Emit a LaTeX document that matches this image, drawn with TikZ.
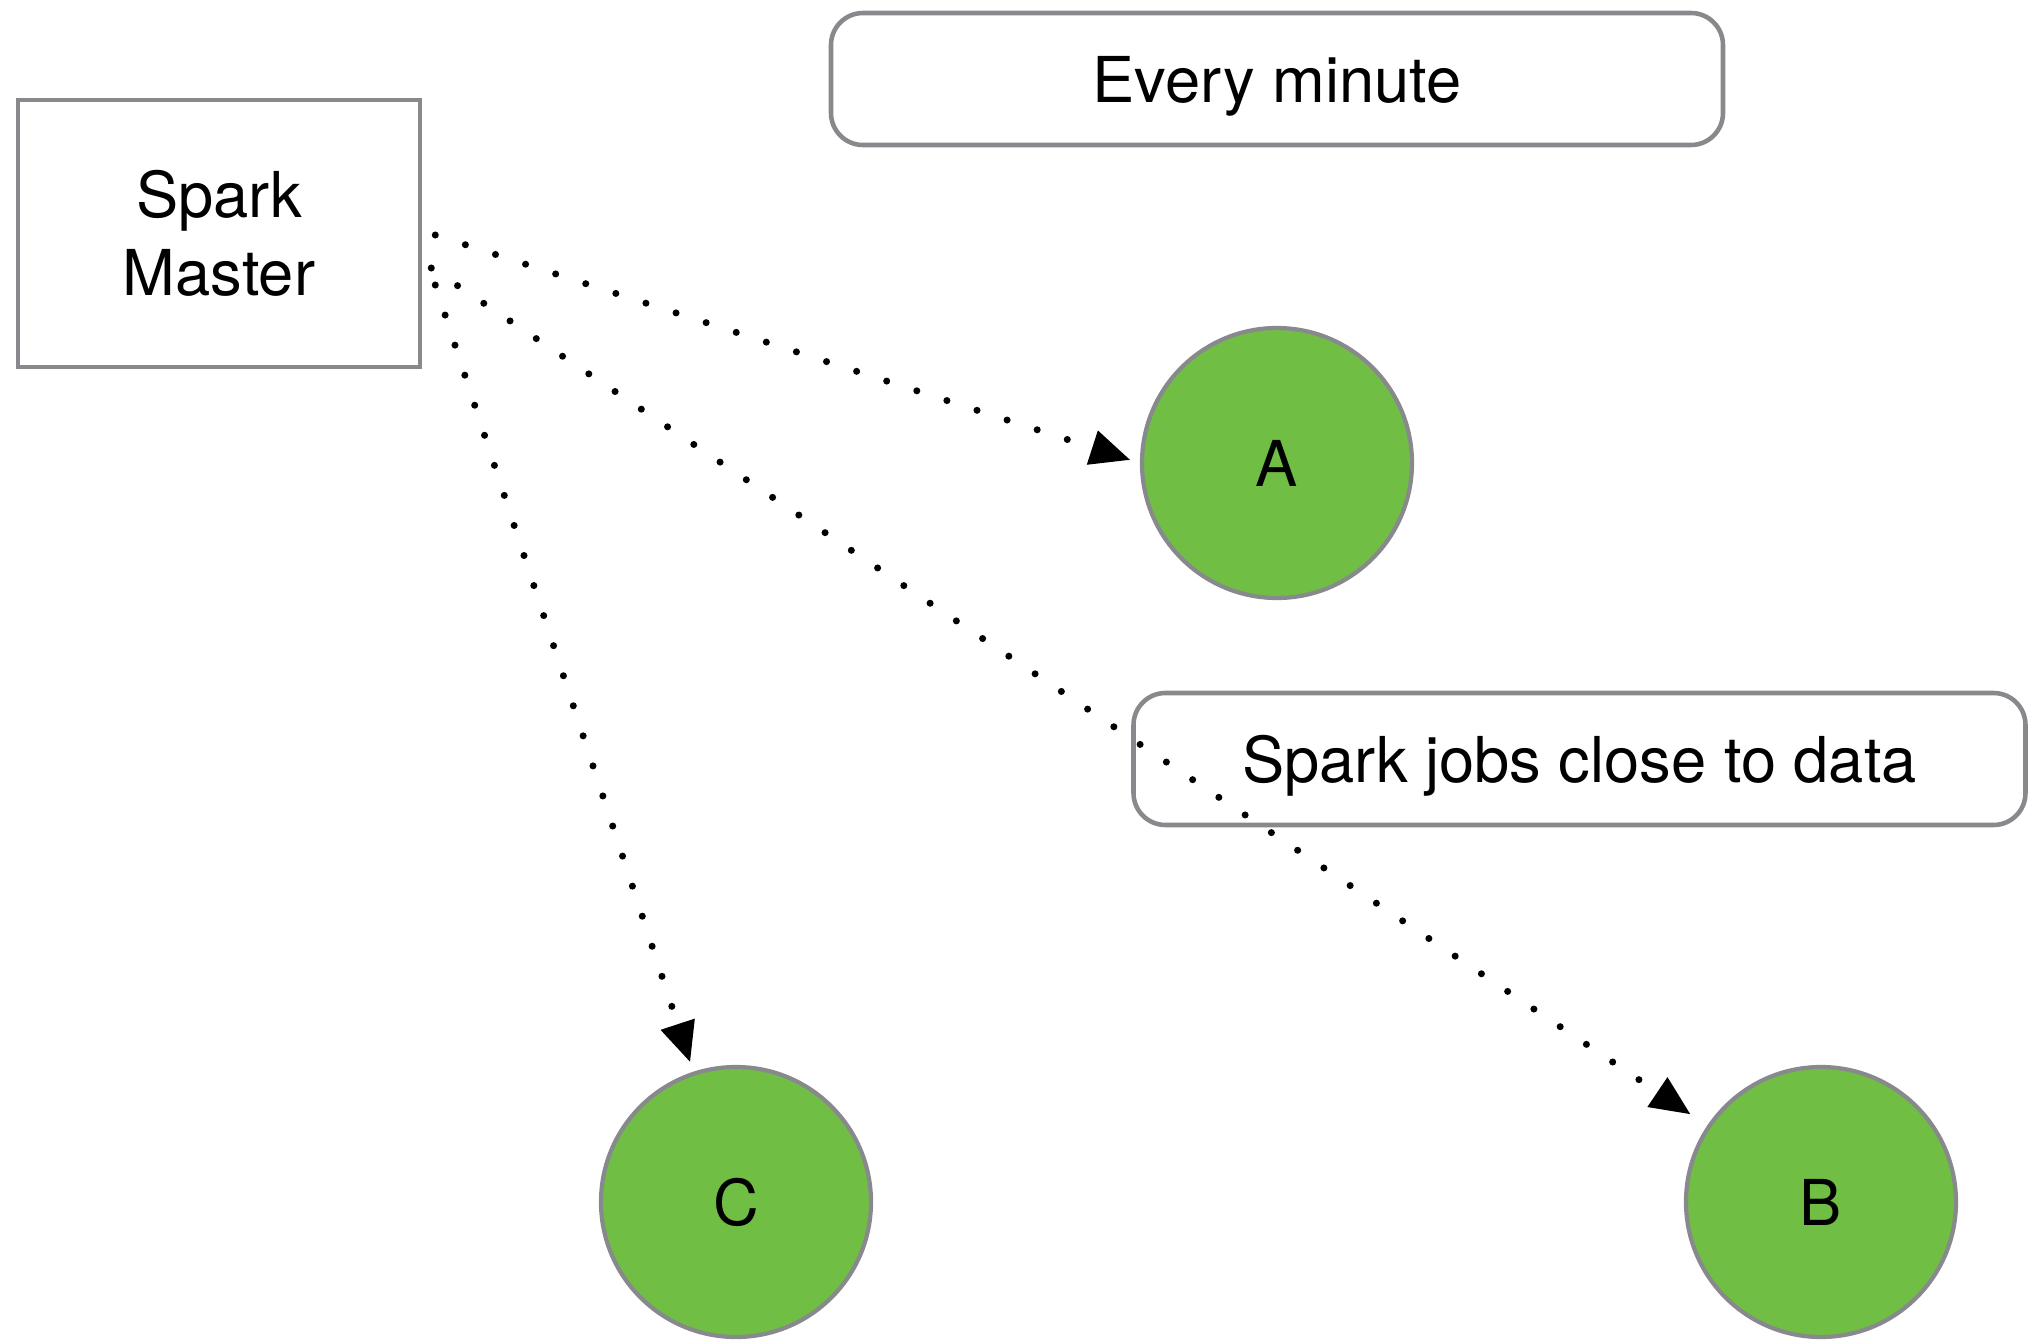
\documentclass[tikz,border=0pt]{standalone}
\usepackage{fontspec}
\setmainfont{TeX Gyre Heros}
\usepackage{tikz}
\usetikzlibrary{arrows.meta}
\definecolor{rimgray}{HTML}{88898C}
\definecolor{nodegreen}{HTML}{70BF44}

\begin{document}
\begin{tikzpicture}[
  box/.style={rectangle,draw=rimgray,line width=1.3pt,fill=white,align=center,font=\fontsize{18}{22}\selectfont},
  note/.style={box,rounded corners=0.32cm,minimum width=8.92cm,minimum height=1.32cm,text depth=0pt},
  worker/.style={circle,draw=rimgray,line width=1.2pt,fill=nodegreen,minimum size=2.7cm,font=\fontsize{18}{22}\selectfont},
  dots/.style={line width=2pt,line cap=round,dash pattern=on 0pt off 9pt,-{Triangle[length=0.4cm,width=0.34cm]}}
]
\useasboundingbox (0,0) rectangle (20.28,-13.42);

\node (master) at (2.19,-2.335) [box,minimum width=4.02cm,minimum height=2.67cm] {Spark\\Master};
\node (minute) at (12.77,-0.79) [note] {Every minute};
\node (jobs) at (15.795,-7.59) [note] {Spark jobs close to data};

\node (a) at (12.77,-4.63) [worker] {A};
\node (c) at (7.36,-12.02) [worker] {C};
\node (b) at (18.21,-12.02) [worker] {B};

\coordinate (m1) at ([xshift=0.13cm,yshift=-0.015cm]master.east);
\coordinate (m2) at ([xshift=0.09cm,yshift=-0.345cm]master.east);
\coordinate (m3) at ([xshift=0.13cm,yshift=-0.515cm]master.east);

\draw [dots,shorten >=0.1cm] (m1) -- (a.west);
\draw [dots,shorten >=0.2cm] (m2) -- (b);
\draw [dots,shorten >=0.1cm] (m3) -- (c);

\end{tikzpicture}
\end{document}
